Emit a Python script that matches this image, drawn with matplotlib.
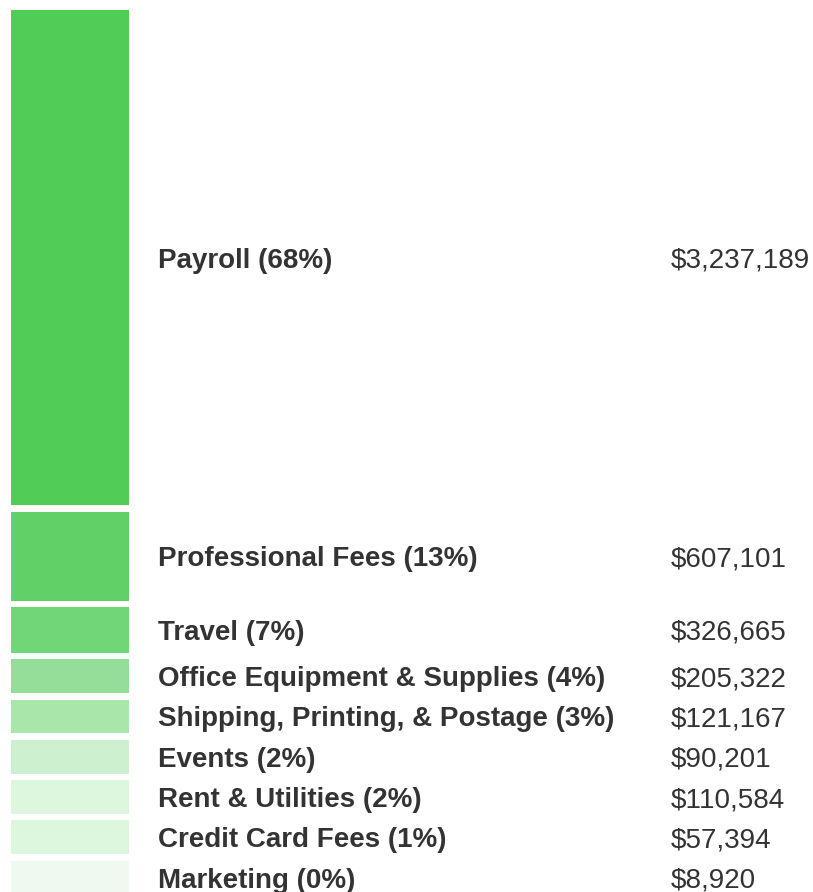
import numpy as np
import matplotlib.pyplot as plt

plt.rcParams['font.family'] = 'sans-serif'
plt.rcParams['font.sans-serif'] = ['Liberation Sans', 'Arial', 'DejaVu Sans']

# expense categories and totals
categories = ["Payroll", "Professional Fees", "Travel", "Office Equipment & Supplies",
              "Shipping, Printing, & Postage", "Events", "Rent & Utilities",
              "Credit Card Fees", "Marketing"]
amounts = [3237189, 607101, 326665, 205322, 121167, 90201, 110584, 57394, 8920]
percents = [68, 13, 7, 4, 3, 2, 2, 1, 0]
colors = ["#51cc56", "#60d067", "#70d677", "#94df98", "#a8e6aa",
          "#cdf0cf", "#ddf6de", "#ddf6de", "#eefaef"]

# layout in pixels
px_per_dollar = 1.5437e-4
min_bar = 33.8
gap = 6.5
top = 10

heights = np.maximum(np.array(amounts) * px_per_dollar - 4.7, min_bar)
slots = heights + gap
starts = top + np.concatenate([[0], np.cumsum(slots)[:-1]])
centers = starts + heights / 2

fig = plt.figure(figsize=(8.13, 8.92), dpi=100)
ax = fig.add_axes([0, 0, 1, 1])
ax.set_xlim(0, 813)
ax.set_ylim(892, 0)
ax.axis('off')

ax.bar(np.full(len(amounts), 70), heights, width=118, bottom=starts,
       color=colors, edgecolor='none')

# label and amount share one baseline per row
for cat, pct, amt, yc in zip(categories, percents, amounts, centers):
    ax.text(158, yc + 10, f"{cat} ({pct}%)", fontsize=20, fontweight='bold',
            color='#333333', va='baseline', ha='left')
    ax.text(671, yc + 10, f"${amt:,}", fontsize=20, color='#333333',
            va='baseline', ha='left')

fig.savefig("out.png", dpi=100)
